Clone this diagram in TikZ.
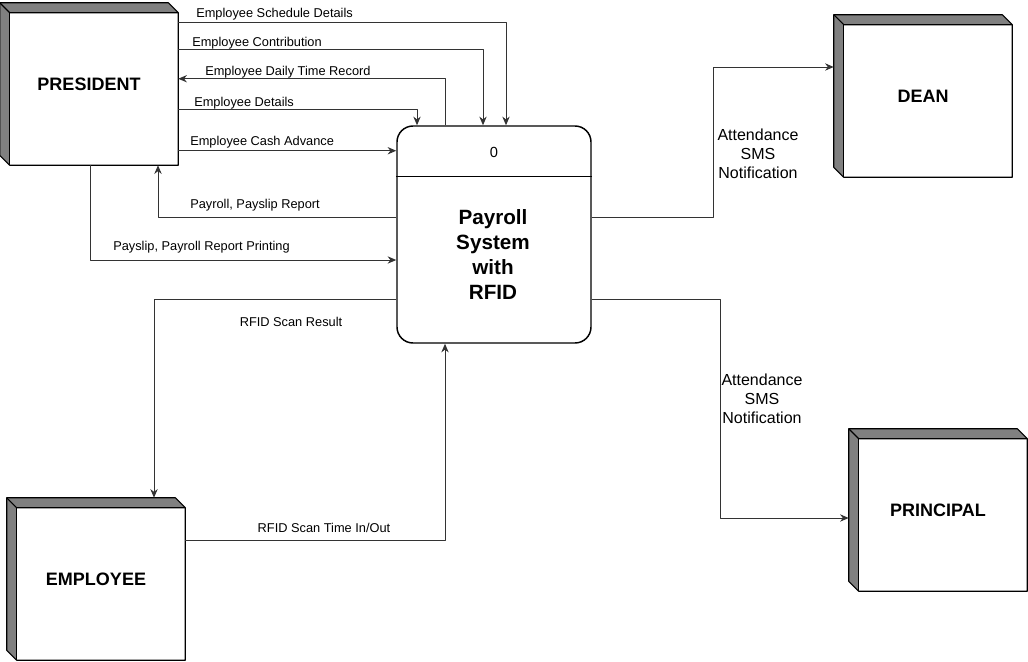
\documentclass[tikz,border=0pt]{standalone}
\usepackage{fontspec}
\setmainfont{Liberation Sans}
\usetikzlibrary{arrows.meta}

\tikzset{
  entity/.style={minimum width=133.5pt, minimum height=121.5pt, inner sep=0pt,
    font=\fontsize{13.5}{16}\selectfont\bfseries},
  entityside/.style={fill=black!50},
  entityline/.style={line width=0.8pt, black},
  process/.style={draw, line width=1.1pt, rounded corners=12pt, minimum width=145.5pt,
    minimum height=162.75pt, inner sep=0pt},
  flow/.style={->, line width=0.75pt, black!80},
  flowlabel/.style={font=\fontsize{9.6}{11}\selectfont, inner sep=0pt},
  notelabel/.style={font=\fontsize{12}{14.25}\selectfont, align=center, inner sep=0pt}
}

% gray depth faces and outline of a cube node
\newcommand\drawentity[1]{%
  \fill[entityside] (#1.north west) -- ([shift={(10,10)}]#1.north west) -- ([shift={(10,0)}]#1.south west) -- ([shift={(0,-10)}]#1.south west) -- cycle;
  \fill[entityside] (#1.north west) -- ([shift={(-10,0)}]#1.north east) -- ([shift={(0,10)}]#1.north east) -- ([shift={(10,10)}]#1.north west) -- cycle;
  \draw[entityline] (#1.north west) -- ([shift={(-10,0)}]#1.north east) -- ([shift={(0,10)}]#1.north east) -- (#1.south east) -- ([shift={(10,0)}]#1.south west) -- ([shift={(0,-10)}]#1.south west) -- cycle;
  \draw[entityline] (#1.north west) -- ([shift={(10,10)}]#1.north west) -- ([shift={(0,10)}]#1.north east);
  \draw[entityline] ([shift={(10,10)}]#1.north west) -- ([shift={(10,0)}]#1.south west);
}

\begin{document}
\begin{tikzpicture}[x=0.75pt, y=-0.75pt, line join=round, >={Stealth[length=6.5pt,width=5.5pt]}]
  \useasboundingbox (0,0) rectangle (1028,661);

  % external entities
  \node[entity] (pres) at (89,84) {PRESIDENT};
  \node[entity] (dean) at (923,96) {DEAN};
  \node[entity] (empl) at (96,579) {EMPLOYEE};
  \node[entity] (princ) at (938,510) {PRINCIPAL};
  \drawentity{pres}
  \drawentity{dean}
  \drawentity{empl}
  \drawentity{princ}

  % process
  \node[process] (proc) at (494,234.5) {};
  \draw[line width=1.1pt] ([shift={(0,51)}]proc.north west) -- ([shift={(0,51)}]proc.north east);
  \node[font=\fontsize{11}{13}\selectfont] (procid) at (494,152) {0};
  \node[font=\fontsize{15.5}{18.75}\selectfont\bfseries, align=center] (proctitle) at (493,255) {Payroll\\System\\with\\RFID};

  % data flows president <-> process
  \draw[flow] ([shift={(0,20)}]pres.north east) -| ([shift={(12,0)}]proc.north);
  \draw[flow] ([shift={(0,47)}]pres.north east) -| ([shift={(-11,0)}]proc.north);
  \draw[flow] ([shift={(-49,0)}]proc.north) |- ([shift={(0,76)}]pres.north east);
  \draw[flow] ([shift={(0,107)}]pres.north east) -| ([shift={(-77,0)}]proc.north);
  \draw[flow] ([shift={(0,148)}]pres.north east) coordinate (cash) -- (cash -| proc.west);
  \draw[flow] ([shift={(0,-17.5)}]proc.west) -| ([shift={(69,0)}]pres.south);
  \draw[flow] ([shift={(1,0)}]pres.south) |- ([shift={(0,25.5)}]proc.west);

  % employee <-> process
  \draw[flow] ([shift={(0,64.5)}]proc.west) -| ([shift={(58,0)}]empl.north);
  \draw[flow] ([shift={(0,-39)}]empl.east) -| ([shift={(-49,0)}]proc.south);

  % notifications
  \draw[flow] ([shift={(0,-17.5)}]proc.east) -- ++(122,0) |- ([shift={(0,-29)}]dean.west);
  \draw[flow] ([shift={(0,64.5)}]proc.east) -- ++(129,0) |- ([shift={(0,8)}]princ.west);

  % labels
  \node[flowlabel, anchor=west] (lsched) at (196,14) {Employee Schedule Details};
  \node[flowlabel, anchor=west] (lcontr) at (192,43) {Employee Contribution};
  \node[flowlabel, anchor=west] (ldtr) at (205,72) {Employee Daily Time Record};
  \node[flowlabel, anchor=west] (ldet) at (194,103) {Employee Details};
  \node[flowlabel, anchor=west] (lcash) at (190,142) {Employee Cash Advance};
  \node[flowlabel, anchor=west] (lreport) at (190,205) {Payroll, Payslip Report};
  \node[flowlabel, anchor=west] (lprint) at (113,247) {Payslip, Payroll Report Printing};
  \node[flowlabel] (lresult) at (291,322) {RFID Scan Result};
  \node[flowlabel] (ltime) at (324,528) {RFID Scan Time In/Out};
  \node[notelabel] (ldean) at (758,154) {Attendance\\SMS\\Notification};
  \node[notelabel] (lprinc) at (762,399) {Attendance\\SMS\\Notification};
\end{tikzpicture}
\end{document}
